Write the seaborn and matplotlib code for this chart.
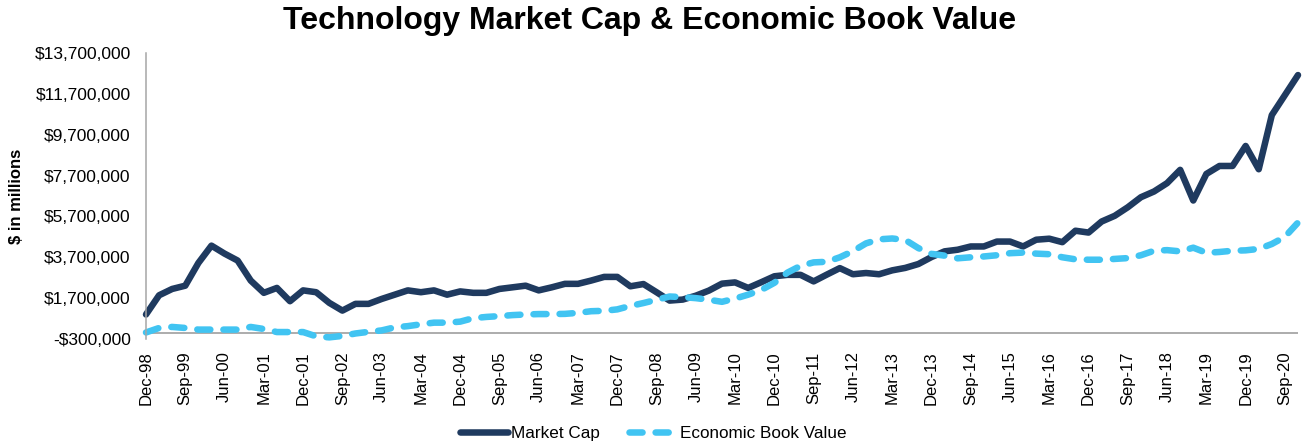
import matplotlib
matplotlib.use("Agg")
import matplotlib.pyplot as plt
import numpy as np
import pandas as pd
import seaborn as sns

# ---------------- data (quarterly, Dec-98 .. Dec-20), $ in millions ----------------
month_names = ["Mar", "Jun", "Sep", "Dec"]
quarters = [f"{month_names[(q + 3) % 4]}-{(1998 + (q + 3) // 4) % 100:02d}" for q in range(89)]

market_cap = [
    0.90, 1.84, 2.15, 2.31, 3.42, 4.27, 3.88, 3.54, 2.56, 1.96,
    2.20, 1.55, 2.08, 1.99, 1.47, 1.09, 1.42, 1.42, 1.66, 1.87,
    2.08, 1.99, 2.08, 1.87, 2.03, 1.96, 1.96, 2.15, 2.23, 2.31,
    2.08, 2.23, 2.40, 2.40, 2.56, 2.74, 2.74, 2.28, 2.39, 1.99,
    1.58, 1.63, 1.82, 2.07, 2.41, 2.47, 2.20, 2.48, 2.77, 2.84,
    2.84, 2.52, 2.85, 3.17, 2.87, 2.93, 2.87, 3.06, 3.18, 3.37,
    3.71, 3.99, 4.07, 4.23, 4.23, 4.47, 4.47, 4.23, 4.56, 4.61,
    4.44, 5.00, 4.91, 5.45, 5.73, 6.15, 6.64, 6.92, 7.33, 7.98,
    6.48, 7.78, 8.17, 8.17, 9.15, 8.01, 10.66, 11.64, 12.62,
]
economic_book_value = [
    0.02, 0.24, 0.29, 0.24, 0.16, 0.16, 0.16, 0.16, 0.29, 0.19,
    0.04, 0.04, 0.04, -0.17, -0.22, -0.15, -0.03, 0.05, 0.12, 0.27,
    0.33, 0.42, 0.50, 0.50, 0.55, 0.72, 0.78, 0.82, 0.87, 0.90,
    0.92, 0.92, 0.93, 0.98, 1.06, 1.08, 1.15, 1.32, 1.46, 1.62,
    1.78, 1.75, 1.70, 1.62, 1.52, 1.68, 1.87, 2.10, 2.45, 2.95,
    3.28, 3.45, 3.48, 3.70, 4.00, 4.38, 4.58, 4.62, 4.55, 4.15,
    3.87, 3.78, 3.65, 3.70, 3.74, 3.80, 3.90, 3.93, 3.88, 3.85,
    3.70, 3.60, 3.58, 3.58, 3.62, 3.66, 3.80, 4.02, 4.05, 3.99,
    4.17, 3.92, 3.96, 4.02, 4.04, 4.11, 4.35, 4.70, 5.40,
]
series_names = ["Market Cap", "Economic Book Value"]

y_ticks = [-300000, 1700000, 3700000, 5700000, 7700000, 9700000, 11700000, 13700000]
x_tick_labels = [
    "Dec-98", "Sep-99", "Jun-00", "Mar-01", "Dec-01", "Sep-02", "Jun-03", "Mar-04",
    "Dec-04", "Sep-05", "Jun-06", "Mar-07", "Dec-07", "Sep-08", "Jun-09", "Mar-10",
    "Dec-10", "Sep-11", "Jun-12", "Mar-13", "Dec-13", "Sep-14", "Jun-15", "Mar-16",
    "Dec-16", "Sep-17", "Jun-18", "Mar-19", "Dec-19", "Sep-20",
]

# ---------------- build long-form table ----------------
n = len(quarters)
df = pd.DataFrame({
    "pos": list(range(n)) * 2,
    "quarter": quarters * 2,
    "value": [v * 1e6 for v in market_cap] + [v * 1e6 for v in economic_book_value],
    "series": [series_names[0]] * n + [series_names[1]] * n,
})

sns.set_theme(style="white")
plt.rcParams["font.family"] = ["Liberation Sans", "DejaVu Sans"]
plt.rcParams["text.color"] = "#000000"

W, H = 1304, 444
fig = plt.figure(figsize=(W / 100, H / 100), dpi=100)
ax = fig.add_axes([146 / W, 1 - 339 / H, (1298 - 146) / W, (339 - 53) / H])

navy = "#1F3A5F"
sky = "#41C4F2"
sns.lineplot(
    data=df, x="pos", y="value", hue="series", style="series",
    hue_order=series_names, style_order=series_names,
    palette={series_names[0]: navy, series_names[1]: sky},
    dashes={series_names[0]: "", series_names[1]: (2.0, 2.0)},
    linewidth=4.7, ax=ax, legend=False, sort=False,
)
lines = ax.get_lines()[:2]
for ln in lines:
    ln.set_solid_capstyle("round")
    ln.set_dash_capstyle("round")
    ln.set_solid_joinstyle("round")
    ln.set_dash_joinstyle("round")
    ln.set_clip_on(False)

ax.set_xlim(0, n - 1)
ax.set_ylim(y_ticks[0], y_ticks[-1])

# zero axis line and left spine
ax.axhline(0, color="#A6A6A6", lw=1.3, zorder=0.5)
for side in ["top", "right", "bottom"]:
    ax.spines[side].set_visible(False)
ax.spines["left"].set_color("#A6A6A6")
ax.spines["left"].set_linewidth(1.1)

def money(v):
    return f"-${abs(v):,.0f}" if v < 0 else f"${v:,.0f}"

ax.set_yticks(y_ticks)
ax.set_yticklabels([money(v) for v in y_ticks], fontsize=12.5, color="#000000")
ax.set_xticks(list(range(0, n, 3)))
ax.set_xticklabels(x_tick_labels, rotation=90, fontsize=12, color="#000000")
ax.tick_params(axis="y", length=0, pad=11)
ax.tick_params(axis="x", length=0, pad=9)
ax.set_xlabel("")
ax.set_ylabel("")
ax.grid(False)

fig.text(17 / W, 1 - 196 / H, "$ in millions", rotation=90, ha="center", va="center",
         fontsize=12, fontweight="bold", color="#000000")
fig.text(0.498, 1 - 21 / H, "Technology Market Cap & Economic Book Value",
         ha="center", va="center", fontsize=23, fontweight="bold", color="#000000")

leg = fig.legend(lines, series_names, loc="center", bbox_to_anchor=(0.501, 1 - 433 / H),
                 ncol=2, frameon=False, fontsize=12.3, handlelength=2.8,
                 handletextpad=0.2, columnspacing=1.7)
for t in leg.get_texts():
    t.set_color("#000000")

fig.savefig("out.png", dpi=100, facecolor="white")
